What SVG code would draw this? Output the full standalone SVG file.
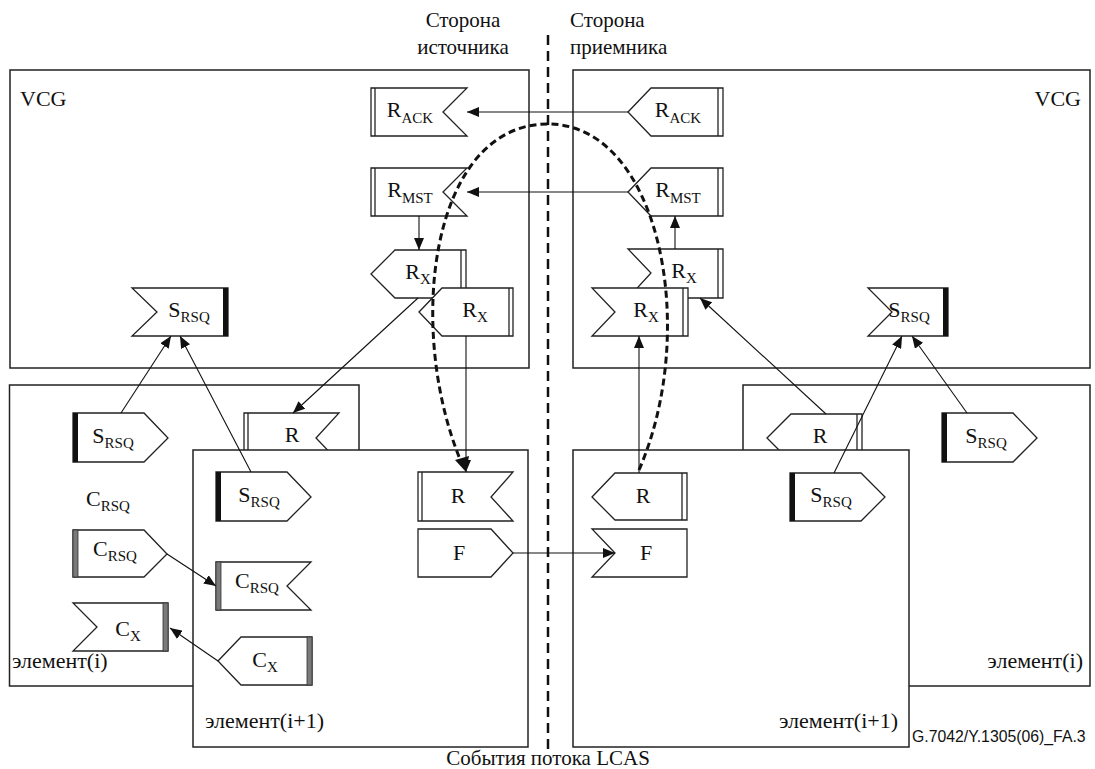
<svg xmlns="http://www.w3.org/2000/svg" width="1095" height="769" viewBox="0 0 1095 769">
<style>
.box{fill:#fff;stroke:#222;stroke-width:1.5}
.sh{fill:#fff;stroke:#222;stroke-width:1.3}
.bl{stroke:#222;stroke-width:1.3}
.bk{fill:#111}
.gr{fill:#7a7a7a;stroke:#333;stroke-width:0.8}
.t{font-family:"Liberation Serif",serif;fill:#111;font-size:21px}
.el{font-size:22px}
.lbl{font-family:"Liberation Serif",serif;font-size:22px;fill:#111;text-anchor:middle}
.sub{font-size:15px}
.c{fill:none;stroke:#111;stroke-width:1.1}
.dsh{fill:none;stroke:#111;stroke-width:3;stroke-dasharray:7 4}
</style>
<defs>
<marker id="ah" viewBox="0 0 12 10" markerWidth="12" markerHeight="10" refX="12" refY="5" orient="auto" markerUnits="userSpaceOnUse">
<path d="M0,0 L12,5 L0,10 Z" fill="#111"/>
</marker>
</defs>
<rect width="1095" height="769" fill="#fff"/>

<!-- side labels -->
<g id="labels">
<text class="t" x="463" y="27" text-anchor="middle">Сторона</text>
<text class="t" x="463" y="54" text-anchor="middle">источника</text>
<text class="t" x="570" y="27">Сторона</text>
<text class="t" x="570" y="54">приемника</text>
<text class="t" x="548" y="765" text-anchor="middle">События потока LCAS</text>
<text x="912" y="742" font-family="Liberation Sans, sans-serif" font-size="15.8" fill="#111">G.7042/Y.1305(06)_FA.3</text>
</g>
<line x1="548" y1="35" x2="548" y2="750" stroke="#111" stroke-width="2.5" stroke-dasharray="10 6"/>

<!-- Left VCG -->
<g id="vcg-left">
<rect class="box" x="10" y="70" width="519" height="298"/>
<text class="t el" x="20" y="106">VCG</text>
</g>
<g id="rack-left">
<path class="sh" d="M371,88 H467 L443,112 L467,136 H371 Z"/><line class="bl" x1="375" y1="88" x2="375" y2="136"/>
<text class="lbl" x="410" y="117">R<tspan class="sub" dy="6">ACK</tspan></text>
</g>
<g id="rmst-left">
<path class="sh" d="M371,168 H467 L443,192 L467,216 H371 Z"/><line class="bl" x1="375" y1="168" x2="375" y2="216"/>
<text class="lbl" x="410" y="197">R<tspan class="sub" dy="6">MST</tspan></text>
</g>
<g id="rx-left-1">
<path class="sh" d="M371,274 L395,250 H466 V298 H395 Z"/><line class="bl" x1="461" y1="250" x2="461" y2="298"/>
<text class="lbl" x="418" y="279">R<tspan class="sub" dy="5">X</tspan></text>
</g>
<g id="rx-left-2">
<path class="sh" d="M419,312 L442,288 H513 V336 H442 Z"/><line class="bl" x1="509" y1="288" x2="509" y2="336"/>
<text class="lbl" x="475" y="317">R<tspan class="sub" dy="5">X</tspan></text>
</g>
<g id="srsq-vcg-left">
<path class="sh" d="M132,288 H228 V336 H132 L157,312 Z"/><rect class="bk" x="223" y="288" width="5" height="48"/>
<text class="lbl" x="189" y="317">S<tspan class="sub" dy="5">RSQ</tspan></text>
</g>

<!-- Right VCG -->
<g id="vcg-right">
<rect class="box" x="573" y="70" width="517" height="298"/>
<text class="t el" x="1081" y="106" text-anchor="end">VCG</text>
</g>
<g id="rack-right">
<path class="sh" d="M628,112 L651,88 H723 V136 H651 Z"/><line class="bl" x1="718" y1="88" x2="718" y2="136"/>
<text class="lbl" x="678" y="117">R<tspan class="sub" dy="6">ACK</tspan></text>
</g>
<g id="rmst-right">
<path class="sh" d="M628,192 L651,168 H723 V216 H651 Z"/><line class="bl" x1="718" y1="168" x2="718" y2="216"/>
<text class="lbl" x="678" y="197">R<tspan class="sub" dy="6">MST</tspan></text>
</g>
<g id="rx-right-1">
<path class="sh" d="M628,249 H723 V298 H628 L651,273 Z"/><line class="bl" x1="718" y1="249" x2="718" y2="298"/>
<text class="lbl" x="684" y="278">R<tspan class="sub" dy="5">X</tspan></text>
</g>
<g id="rx-right-2">
<path class="sh" d="M592,288 H688 V336 H592 L615,312 Z"/><line class="bl" x1="683" y1="288" x2="683" y2="336"/>
<text class="lbl" x="646" y="317">R<tspan class="sub" dy="5">X</tspan></text>
</g>
<g id="srsq-vcg-right">
<path class="sh" d="M868,288 H948 V336 H868 L892,312 Z"/><rect class="bk" x="943" y="288" width="5" height="48"/>
<text class="lbl" x="909" y="317">S<tspan class="sub" dy="5">RSQ</tspan></text>
</g>

<!-- Left element(i) -->
<g id="elem-i-left">
<rect class="box" x="9.5" y="385" width="349.5" height="301"/>
<text class="t el" x="12" y="668">элемент(i)</text>
<text class="lbl" x="108" y="506">C<tspan class="sub" dy="5">RSQ</tspan></text>
</g>
<g id="srsq-ei-left">
<path class="sh" d="M73,413 H144 L168,438 L144,462 H73 Z"/><rect class="bk" x="73" y="413" width="5" height="49"/>
<text class="lbl" x="113" y="443">S<tspan class="sub" dy="5">RSQ</tspan></text>
</g>
<g id="r-ei-left">
<path class="sh" d="M244,413 H339 L316,438 L339,462 H244 Z"/><line class="bl" x1="248" y1="413" x2="248" y2="462"/>
<text class="lbl" x="292" y="442">R</text>
</g>
<g id="crsq-ei-left">
<path class="sh" d="M73,530 H144 L167,554 L144,577 H73 Z"/><rect class="gr" x="73" y="530" width="5" height="47"/>
<text class="lbl" x="115" y="556">C<tspan class="sub" dy="5">RSQ</tspan></text>
</g>
<g id="cx-ei-left">
<path class="sh" d="M73,603 H168 V651 H73 L97,627 Z"/><rect class="gr" x="163" y="603" width="5" height="48"/>
<text class="lbl" x="128" y="636">C<tspan class="sub" dy="5">X</tspan></text>
</g>

<!-- Left element(i+1) -->
<g id="elem-i1-left">
<rect class="box" x="193" y="450" width="335" height="297"/>
<text class="t el" x="205" y="728">элемент(i+1)</text>
</g>
<g id="srsq-ei1-left">
<path class="sh" d="M216,472 H287 L311,497 L287,521 H216 Z"/><rect class="bk" x="216" y="472" width="5" height="49"/>
<text class="lbl" x="259" y="502">S<tspan class="sub" dy="5">RSQ</tspan></text>
</g>
<g id="r-ei1-left">
<path class="sh" d="M418,472 H513 L491,497 L513,521 H418 Z"/><line class="bl" x1="422" y1="472" x2="422" y2="521"/>
<text class="lbl" x="458" y="503">R</text>
</g>
<g id="f-left">
<path class="sh" d="M418,529 H491 L513,553 L491,577 H418 Z"/>
<text class="lbl" x="459" y="560">F</text>
</g>
<g id="crsq-ei1-left">
<path class="sh" d="M216,562 H311 L287,586 L311,610 H216 Z"/><rect class="gr" x="216" y="562" width="5" height="48"/>
<text class="lbl" x="257" y="588">C<tspan class="sub" dy="5">RSQ</tspan></text>
</g>
<g id="cx-ei1-left">
<path class="sh" d="M218,661 L241,637 H312 V685 H241 Z"/><rect class="gr" x="307" y="637" width="5" height="48"/>
<text class="lbl" x="265" y="667">C<tspan class="sub" dy="5">X</tspan></text>
</g>

<!-- Right element(i) -->
<g id="elem-i-right">
<rect class="box" x="743" y="385" width="347" height="301"/>
<text class="t el" x="1083" y="668" text-anchor="end">элемент(i)</text>
</g>
<g id="r-ei-right">
<path class="sh" d="M767,438 L791,414 H862 V462 H791 Z"/><line class="bl" x1="857" y1="414" x2="857" y2="462"/>
<text class="lbl" x="820" y="443">R</text>
</g>
<g id="srsq-ei-right">
<path class="sh" d="M942,413 H1013 L1037,438 L1013,462 H942 Z"/><rect class="bk" x="942" y="413" width="5" height="49"/>
<text class="lbl" x="986" y="443">S<tspan class="sub" dy="5">RSQ</tspan></text>
</g>

<!-- Right element(i+1) -->
<g id="elem-i1-right">
<rect class="box" x="573" y="450" width="336" height="297"/>
<text class="t el" x="898" y="728" text-anchor="end">элемент(i+1)</text>
</g>
<g id="r-ei1-right">
<path class="sh" d="M592,497 L615,473 H687 V520 H615 Z"/><line class="bl" x1="682" y1="473" x2="682" y2="520"/>
<text class="lbl" x="643" y="503">R</text>
</g>
<g id="srsq-ei1-right">
<path class="sh" d="M790,473 H861 L885,497 L861,521 H790 Z"/><rect class="bk" x="790" y="473" width="5" height="48"/>
<text class="lbl" x="831" y="502">S<tspan class="sub" dy="5">RSQ</tspan></text>
</g>
<g id="f-right">
<path class="sh" d="M592,529 H687 V577 H592 L615,553 Z"/>
<text class="lbl" x="646" y="560">F</text>
</g>

<!-- connectors -->
<g id="connectors">
<line class="c" x1="628" y1="112" x2="467" y2="112" marker-end="url(#ah)"/>
<line class="c" x1="628" y1="192" x2="467" y2="192" marker-end="url(#ah)"/>
<line class="c" x1="419" y1="216" x2="419" y2="250" marker-end="url(#ah)"/>
<line class="c" x1="418" y1="298" x2="293" y2="413" marker-end="url(#ah)"/>
<line class="c" x1="466" y1="336" x2="466" y2="472" marker-end="url(#ah)"/>
<line class="c" x1="675" y1="249" x2="675" y2="216" marker-end="url(#ah)"/>
<line class="c" x1="639" y1="473" x2="639" y2="336" marker-end="url(#ah)"/>
<line class="c" x1="826" y1="414" x2="700" y2="298" marker-end="url(#ah)"/>
<line class="c" x1="121" y1="413" x2="171" y2="336" marker-end="url(#ah)"/>
<line class="c" x1="251" y1="472" x2="180" y2="336" marker-end="url(#ah)"/>
<line class="c" x1="834" y1="473" x2="902" y2="336" marker-end="url(#ah)"/>
<line class="c" x1="967" y1="413" x2="912" y2="336" marker-end="url(#ah)"/>
<line class="c" x1="167" y1="554" x2="216" y2="586" marker-end="url(#ah)"/>
<line class="c" x1="218" y1="661" x2="170" y2="628" marker-end="url(#ah)"/>
<line class="c" x1="513" y1="553" x2="615" y2="553" marker-end="url(#ah)"/>
<path class="dsh" d="M639,470 C700,330 660,124 548,124 C430,124 405,330 462,464"/>
<path d="M455,460 L466,472 L469,456 Z" fill="#111"/>
</g>
</svg>
